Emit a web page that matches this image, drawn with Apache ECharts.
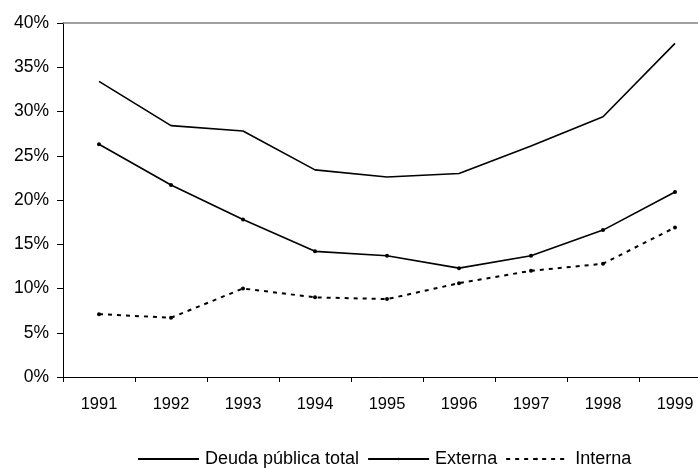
<!DOCTYPE html>
<html>
<head>
<meta charset="utf-8">
<script src="https://cdn.jsdelivr.net/npm/echarts@6/dist/echarts.min.js"></script>
<style>
  html, body { margin: 0; padding: 0; background: #fff; }
  #chart { width: 698px; height: 468px; }
</style>
</head>
<body>
<div id="chart"></div>
<script>
// Years on the category axis
const years = ['1991', '1992', '1993', '1994', '1995', '1996', '1997', '1998', '1999'];
// Debt as a share of GDP (%)
const deudaTotal = [33.4, 28.4, 27.8, 23.4, 22.6, 23.0, 26.1, 29.4, 37.7];
const externa = [26.3, 21.7, 17.8, 14.2, 13.7, 12.3, 13.7, 16.6, 20.9];
const interna = [7.1, 6.7, 10.0, 9.0, 8.8, 10.6, 12.0, 12.8, 16.9];

const font = 'Liberation Sans, Arial, sans-serif';
const chart = echarts.init(document.getElementById('chart'), null, { renderer: 'canvas' });

chart.setOption({
  animation: false,
  backgroundColor: '#ffffff',
  // plot area runs slightly past the right edge of the canvas
  grid: { left: 63, top: 23, width: 648, height: 354, containLabel: false, outerBoundsMode: 'none' },
  xAxis: [
    {
      type: 'category',
      data: years,
      boundaryGap: true,
      axisLine: { lineStyle: { color: '#000', width: 1 } },
      axisTick: { show: true, length: 5, inside: false, lineStyle: { color: '#000' } },
      axisLabel: { color: '#000', fontSize: 16.5, fontFamily: font, margin: 19 }
    },
    {
      type: 'category',
      data: years,
      position: 'top',
      axisLine: { lineStyle: { color: '#808080', width: 1.5 } },
      axisTick: { show: false },
      axisLabel: { show: false }
    }
  ],
  yAxis: {
    type: 'value',
    min: 0,
    max: 40,
    interval: 5,
    axisLine: { show: true, lineStyle: { color: '#000', width: 1 } },
    axisTick: { show: true, length: 6, lineStyle: { color: '#000' } },
    splitLine: { show: false },
    axisLabel: { color: '#000', fontSize: 17.5, fontFamily: font, margin: 14, formatter: '{value}%' }
  },
  legend: {
    top: 450,
    left: 137,
    padding: 0,
    itemWidth: 61,
    itemHeight: 3,
    itemGap: 8,
    textStyle: { color: '#000', fontSize: 18, fontFamily: font, padding: [0, 0, 0, 1] },
    data: [
      { name: 'Deuda pública total', itemStyle: { opacity: 0 } },
      { name: 'Externa' },
      { name: 'Interna', textStyle: { padding: [0, 0, 0, 3] } }
    ]
  },
  series: [
    {
      name: 'Deuda pública total',
      type: 'line',
      data: deudaTotal,
      symbol: 'none',
      lineStyle: { color: '#000', width: 1.6 },
      itemStyle: { color: '#000' }
    },
    {
      name: 'Externa',
      type: 'line',
      data: externa,
      symbol: 'circle',
      symbolSize: 4,
      lineStyle: { color: '#000', width: 1.6 },
      itemStyle: { color: '#000' }
    },
    {
      name: 'Interna',
      type: 'line',
      data: interna,
      symbol: 'circle',
      symbolSize: 4,
      lineStyle: { color: '#000', width: 2, type: [4, 5] },
      itemStyle: { color: '#000' }
    }
  ]
});
</script>
</body>
</html>
